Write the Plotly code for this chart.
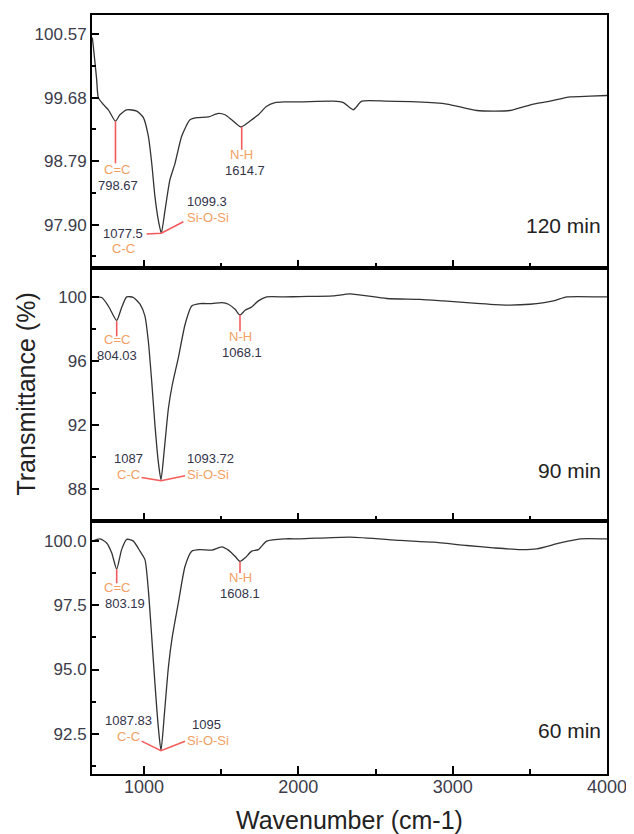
import plotly.graph_objects as go
from plotly.subplots import make_subplots

# ---------------- data ----------------
wn_120 = [665, 671, 693, 704, 736, 769, 815, 844, 888, 953, 996, 1028, 1050, 1071, 1093, 1112,
          1136, 1168, 1201, 1244, 1298, 1342, 1417, 1482, 1525, 1568, 1625, 1655, 1698, 1741,
          1795, 1849, 1914, 2011, 2227, 2292, 2356, 2411, 2573, 2767, 2962, 3156, 3372, 3523,
          3631, 3761, 3890, 4000]
t_120 = [100.52, 100.41, 99.94, 99.68, 99.585, 99.51, 99.35, 99.44, 99.51, 99.49, 99.40, 99.14,
         98.76, 98.29, 97.96, 97.78, 98.10, 98.53, 98.76, 99.14, 99.37, 99.40, 99.41, 99.46,
         99.44, 99.37, 99.27, 99.30, 99.37, 99.44, 99.56, 99.61, 99.62, 99.62, 99.63, 99.61,
         99.51, 99.63, 99.63, 99.62, 99.59, 99.50, 99.50, 99.59, 99.63, 99.69, 99.70, 99.71]

wn_90 = [665, 726, 769, 823, 855, 888, 931, 974, 1006, 1028, 1050, 1071, 1093, 1110, 1132, 1158,
         1183, 1222, 1266, 1309, 1363, 1439, 1504, 1547, 1590, 1622, 1655, 1698, 1741, 1795,
         1914, 2011, 2225, 2335, 2573, 2789, 2940, 3156, 3350, 3502, 3653, 3739, 3955, 4000]
t_90 = [100.02, 99.98, 99.45, 98.55, 99.35, 100.02, 99.98, 99.56, 98.82, 97.24, 94.71, 91.97,
        89.65, 88.56, 90.50, 93.03, 94.50, 96.19, 98.29, 99.45, 99.60, 99.60, 99.66, 99.56,
        99.24, 98.88, 99.18, 99.39, 99.77, 100.02, 100.02, 100.04, 100.08, 100.21, 99.92,
        99.87, 99.77, 99.62, 99.51, 99.56, 99.77, 100.02, 100.02, 100.02]

wn_60 = [665, 715, 758, 791, 823, 855, 888, 931, 974, 1006, 1028, 1050, 1071, 1093, 1110, 1132,
         1158, 1183, 1222, 1266, 1309, 1363, 1439, 1504, 1547, 1590, 1622, 1655, 1698, 1741,
         1795, 1914, 2011, 2335, 2659, 2875, 3091, 3264, 3437, 3545, 3696, 3826, 3988, 4000]
t_60 = [100.0, 100.09, 99.93, 99.54, 98.91, 99.67, 100.07, 100.0, 99.61, 99.28, 98.10, 96.27,
        94.44, 92.73, 91.84, 93.26, 95.09, 96.27, 97.58, 99.02, 99.61, 99.67, 99.65, 99.78,
        99.65, 99.41, 99.21, 99.35, 99.61, 99.67, 100.0, 100.09, 100.09, 100.16, 100.03,
        99.96, 99.83, 99.74, 99.67, 99.70, 99.93, 100.09, 100.09, 100.09]

panel_names = ["120 min", "90 min", "60 min"]

# y-axis settings per panel
y_ranges = [[97.293, 100.838], [85.98, 101.83], [90.93, 100.785]]
y_tick0 = [97.90, 88, 92.5]
y_dtick = [0.89, 4, 2.5]
y_fmt = [".2f", "d", ".1f"]

x_range = [663, 4000]

# peak label texts and positions (wavenumber, transmittance)
lab_120_text = ["C=C", "798.67", "N-H", "1614.7", "1099.3", "Si-O-Si", "1077.5", "C-C"]
lab_120_x = [825, 833, 1633, 1655, 1406, 1417, 866, 866]
lab_120_y = [98.68, 98.45, 98.885, 98.665, 98.225, 98.005, 97.78, 97.56]

lab_90_text = ["C=C", "804.03", "N-H", "1068.1", "1087", "C-C", "1093.72", "Si-O-Si"]
lab_90_x = [823, 823, 1622, 1633, 898, 898, 1428, 1417]
lab_90_y = [97.33, 96.35, 97.52, 96.54, 89.91, 88.92, 89.91, 88.92]

lab_60_text = ["C=C", "803.19", "N-H", "1608.1", "1087.83", "C-C", "1095", "Si-O-Si"]
lab_60_x = [823, 880, 1622, 1622, 898, 898, 1406, 1417]
lab_60_y = [98.2, 97.59, 98.57, 97.96, 93.01, 92.40, 92.86, 92.25]

# red marker lines: vertical C=C and N-H lines (x, y_top, y_bottom), and V at Si-O-Si
cc_line = [(815, 99.35, 98.76), (823, 98.50, 97.55), (823, 98.91, 98.36)]
nh_line = [(1633, 99.27, 98.95), (1622, 98.88, 97.87), (1622, 99.21, 98.76)]
v_line = [[(1017, 97.77), (1112, 97.78), (1255, 97.94)],
          [(984, 88.71), (1110, 88.50), (1266, 88.81)],
          [(984, 92.21), (1110, 91.84), (1266, 92.21)]]

# ---------------- figure ----------------
FONT = "Arial, Liberation Sans, sans-serif"
ORANGE = "#F2A064"
RED = "#F45A5A"
NUM = "#33334a"
TICKC = "#3c3c4a"

fig = make_subplots(rows=3, cols=1, shared_xaxes=True, vertical_spacing=0)

series = [(wn_120, t_120), (wn_90, t_90), (wn_60, t_60)]
for i, (xs, ys) in enumerate(series):
    fig.add_trace(go.Scatter(x=xs, y=ys, mode="lines",
                             line=dict(color="#333333", width=1.3, shape="spline", smoothing=0.6),
                             showlegend=False), row=i + 1, col=1)

labels = [(lab_120_text, lab_120_x, lab_120_y),
          (lab_90_text, lab_90_x, lab_90_y),
          (lab_60_text, lab_60_x, lab_60_y)]

for i in range(3):
    r = i + 1
    xref = "x" if r == 1 else f"x{r}"
    yref = "y" if r == 1 else f"y{r}"
    texts, xs, ys = labels[i]
    for t, x, y in zip(texts, xs, ys):
        is_group = not any(ch.isdigit() for ch in t)
        fig.add_annotation(x=x, y=y, xref=xref, yref=yref, text=t, showarrow=False,
                           font=dict(family=FONT, size=13, color=ORANGE if is_group else NUM),
                           xanchor="center", yanchor="middle")
    # red lines
    cx, cy0, cy1 = cc_line[i]
    fig.add_shape(type="line", xref=xref, yref=yref, x0=cx, x1=cx, y0=cy0, y1=cy1,
                  line=dict(color=RED, width=1.6))
    nx, ny0, ny1 = nh_line[i]
    fig.add_shape(type="line", xref=xref, yref=yref, x0=nx, x1=nx, y0=ny0, y1=ny1,
                  line=dict(color=RED, width=1.6))
    pts = v_line[i]
    path = "M {} {} L {} {} L {} {}".format(pts[0][0], pts[0][1], pts[1][0], pts[1][1],
                                            pts[2][0], pts[2][1])
    fig.add_shape(type="path", xref=xref, yref=yref, path=path,
                  line=dict(color=RED, width=1.6))
    # panel label
    fig.add_annotation(x=0.992, y=[0.168, 0.2, 0.17][i],
                       xref=f"{xref} domain", yref=f"{yref} domain",
                       text=panel_names[i], showarrow=False, xanchor="right", yanchor="middle",
                       font=dict(family=FONT, size=21, color="#222222"))

    fig.update_yaxes(row=r, col=1, range=y_ranges[i], tick0=y_tick0[i], dtick=y_dtick[i],
                     tickformat=y_fmt[i], ticks="inside", ticklen=7, tickwidth=1.5,
                     tickcolor="black", showline=True, linecolor="black", linewidth=2,
                     mirror=True, showgrid=False, zeroline=False,
                     tickfont=dict(family=FONT, size=17, color=TICKC),
                     minor=dict(ticks="inside", ticklen=4, tickwidth=1.5, tickcolor="black",
                                dtick=y_dtick[i] / 2, tick0=y_tick0[i], showgrid=False))
    fig.update_xaxes(row=r, col=1, range=x_range, tick0=0, dtick=1000, ticks="inside",
                     ticklen=8, tickwidth=1.5, tickcolor="black", showline=True,
                     linecolor="black", linewidth=2, mirror=True, showgrid=False,
                     zeroline=False, tickfont=dict(family=FONT, size=18, color=TICKC),
                     minor=dict(ticks="inside", ticklen=5, tickwidth=1.5, tickcolor="black",
                                dtick=500, tick0=0, showgrid=False))

fig.update_xaxes(row=3, col=1, showticklabels=True, ticklabelstandoff=-5)

fig.add_annotation(text="Transmittance (%)", xref="paper", yref="paper", x=-0.13, y=0.5,
                   textangle=-90, showarrow=False, xanchor="center", yanchor="middle",
                   font=dict(family=FONT, size=25, color="#222222"))
fig.add_annotation(text="Wavenumber (cm-1)", xref="paper", yref="paper", x=0.5, y=-0.06,
                   showarrow=False, xanchor="center", yanchor="middle",
                   font=dict(family=FONT, size=25, color="#222222"))

# page body has an 8px margin, so the figure is 8px smaller and margins shifted
fig.update_layout(width=626, height=826, margin=dict(l=84, r=27, t=5, b=60),
                  paper_bgcolor="white", plot_bgcolor="white", showlegend=False)

fig.write_html("out.html")
